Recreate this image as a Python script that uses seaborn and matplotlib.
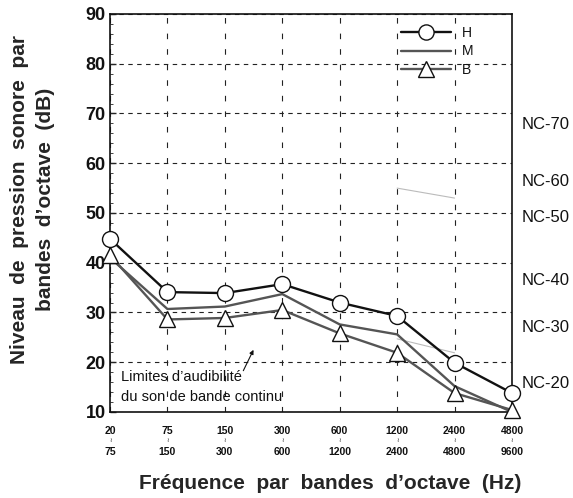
import pandas as pd
import matplotlib.pyplot as plt
import seaborn as sns

# bandes d'octave
bands_low = ['20', '75', '150', '300', '600', '1200', '2400', '4800']
bands_high = ['75', '150', '300', '600', '1200', '2400', '4800', '9600']

# niveaux (dB)
level_h = [44.8, 34.1, 33.9, 35.7, 32.0, 29.3, 19.9, 13.8]
level_m = [41.0, 30.7, 31.2, 33.7, 27.6, 25.6, 15.2, 10.0]
level_b = [41.5, 28.6, 28.9, 30.5, 25.8, 21.9, 13.8, 10.4]

# courbes NC (étiquettes à droite)
nc_labels = ['NC-70', 'NC-60', 'NC-50', 'NC-40', 'NC-30', 'NC-20']
nc_levels = [67.7, 56.4, 49.0, 36.5, 26.9, 15.8]

# traits parasites gris clair
stray_x = [[5, 6], [5, 6]]
stray_y = [[55.0, 53.0], [24.7, 21.9]]

df = pd.DataFrame({
    'idx': list(range(len(bands_low))) * 3,
    'niveau': level_h + level_m + level_b,
    'serie': ['H'] * 8 + ['M'] * 8 + ['B'] * 8,
})

sns.set_style('ticks')
plt.rcParams['font.family'] = ['Liberation Sans', 'DejaVu Sans']
plt.rcParams['text.color'] = '#111111'

fig = plt.figure(figsize=(5.73, 4.98), dpi=100)
ax = fig.add_axes([0.192, 0.1727, 0.7015, 0.7992])

styles = {
    'H': dict(color='#111111', marker='o'),
    'M': dict(color='#555555', marker=None),
    'B': dict(color='#555555', marker='^'),
}
for name in ['M', 'B', 'H']:
    st = styles[name]
    sns.lineplot(data=df[df['serie'] == name], x='idx', y='niveau', ax=ax,
                 color=st['color'], lw=1.7, marker=st['marker'],
                 markersize=11.5, markerfacecolor='white',
                 markeredgecolor='#111111', markeredgewidth=1.0,
                 label=name, clip_on=False, zorder=3)

for xs, ys in zip(stray_x, stray_y):
    ax.plot(xs, ys, color='#bbbbbb', lw=0.8, zorder=2)

ax.set_xlim(0, 7)
ax.set_ylim(10, 90)
ax.set_yticks(range(10, 91, 10))
ax.set_yticks(range(10, 91, 2), minor=True)
ax.set_xticks(range(8))
ax.set_xticklabels(bands_low, fontsize=7.5, fontweight='bold')
xt = ax.get_xaxis_transform()
for i, hi in enumerate(bands_high):
    ax.text(i, -0.072, '≀', transform=xt, ha='center', va='center',
            fontsize=4.5, family='DejaVu Sans')
    ax.text(i, -0.1, hi, transform=xt, ha='center', va='center',
            fontsize=7.5, fontweight='bold')
ax.tick_params(axis='y', labelsize=13, labelcolor='#111111', direction='in',
               length=4, width=1, pad=3)
ax.tick_params(axis='y', which='minor', direction='in', length=2, width=0.6)
ax.tick_params(axis='x', length=0, pad=10, labelcolor='#111111')
for lab in ax.get_yticklabels():
    lab.set_fontweight('bold')

ax.grid(True, axis='y', linestyle=(0, (4, 4)), color='#222222', lw=0.8)
ax.grid(True, axis='x', linestyle=(0, (5, 9)), color='#222222', lw=0.8)
for s in ax.spines.values():
    s.set_linewidth(1.2)
    s.set_color('#111111')

for lab, lv in zip(nc_labels, nc_levels):
    ax.text(1.025, lv, lab, transform=ax.get_yaxis_transform(),
            ha='left', va='center', fontsize=12)

ax.annotate('', xy=(2.52, 23.0), xytext=(2.3, 17.8),
            arrowprops=dict(arrowstyle='-|>', color='#111111', lw=0.8,
                            mutation_scale=6))
ax.text(0.19, 17.0, 'Limites d’audibilité', fontsize=10.5, va='center')
ax.text(0.19, 13.1, 'du son de bande continu', fontsize=10.5, va='center')

handles, labels = ax.get_legend_handles_labels()
order = [labels.index(n) for n in ['H', 'M', 'B']]
ax.legend([handles[i] for i in order], ['H', 'M', 'B'], frameon=False,
          loc='upper right', bbox_to_anchor=(0.925, 0.99), handlelength=3.6,
          fontsize=10, labelspacing=0.3, markerscale=0.95,
          handletextpad=0.8, borderaxespad=0.2)

ax.set_xlabel('Fréquence  par  bandes  d’octave  (Hz)', fontsize=15,
              fontweight='bold')
ax.set_ylabel('Niveau  de  pression  sonore  par\nbandes  d’octave  (dB)',
              fontsize=15, fontweight='bold', linespacing=1.45)
ax.xaxis.set_label_coords(0.547, -0.155)
ax.yaxis.set_label_coords(-0.137, 0.535)

plt.savefig('out.png', dpi=100)
